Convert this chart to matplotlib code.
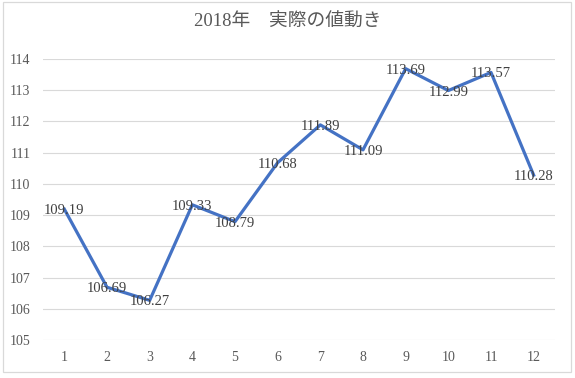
import matplotlib
matplotlib.use("Agg")
import matplotlib.pyplot as plt
from matplotlib.patches import Rectangle

months = [1, 2, 3, 4, 5, 6, 7, 8, 9, 10, 11, 12]
values = [109.19, 106.69, 106.27, 109.33, 108.79, 110.68, 111.89, 111.09, 113.69, 112.99, 113.57, 110.28]
yticks = [105, 106, 107, 108, 109, 110, 111, 112, 113, 114]
title = "2018年\u3000実際の値動き"

serif = ['Liberation Serif', 'DejaVu Serif', 'Noto Sans CJK JP']
plt.rcParams['font.family'] = serif

W, H = 575, 378
fig = plt.figure(figsize=(W / 100, H / 100), dpi=100)
fig.patch.set_facecolor('white')

# outer chart border
fig.patches.append(Rectangle((3 / W, 1 - 372 / H), 568 / W, 370 / H,
                             transform=fig.transFigure, fill=False,
                             edgecolor='#D9D9D9', linewidth=0.9))

left, right, top, bottom = 43, 555, 59, 340
ax = fig.add_axes([left / W, 1 - bottom / H, (right - left) / W, (bottom - top) / H])

ax.plot(months, values, color='#4472C4', linewidth=2.3, solid_joinstyle='round', zorder=3)
for m, v in zip(months, values):
    ax.text(m, v, f"{v:.2f}", ha='center', va='center_baseline', fontsize=10.5,
            color='#404040', zorder=4)

ax.set_xlim(0.5, 12.5)
ax.set_ylim(105, 114)
ax.set_yticks(yticks)
ax.set_xticks(months)
ax.set_xticklabels([str(m) for m in months])
ax.grid(axis='y', color='#D9D9D9', linewidth=0.8)
ax.set_axisbelow(True)
for s in ax.spines.values():
    s.set_visible(False)
ax.tick_params(axis='both', length=0, labelsize=10, labelcolor='#595959')
ax.tick_params(axis='y', pad=9)
ax.tick_params(axis='x', pad=8)

fig.text(0.5, 1 - 22 / H, title, ha='center', va='center', fontsize=13.5,
         color='#595959', family=serif)

fig.savefig('out.png', dpi=100)
